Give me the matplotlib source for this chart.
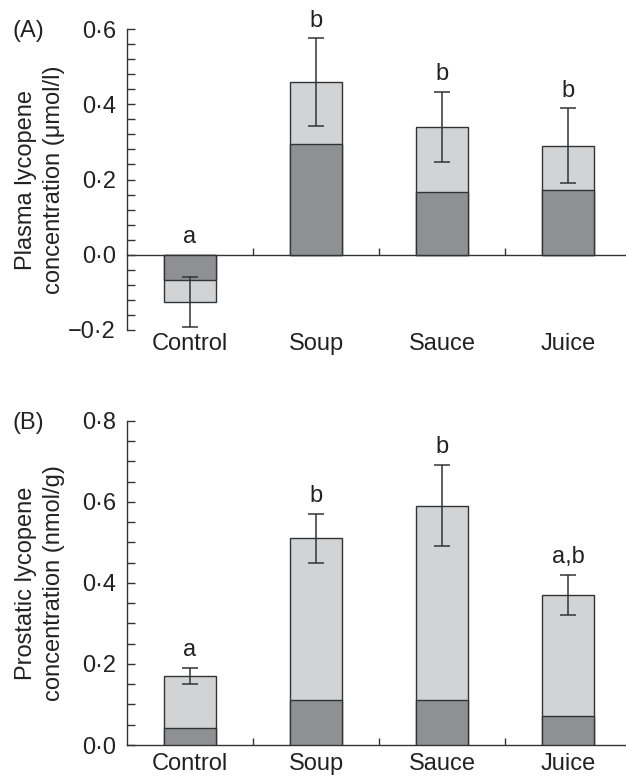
import matplotlib
matplotlib.use('Agg')
import matplotlib.pyplot as plt
from matplotlib.ticker import FixedLocator, MultipleLocator, NullFormatter

plt.rcParams['font.family'] = ['Liberation Sans', 'DejaVu Sans']

categories = ['Control', 'Soup', 'Sauce', 'Juice']

plasma_total = [-0.125, 0.458, 0.340, 0.290]
plasma_dark = [-0.067, 0.295, 0.168, 0.173]
plasma_err = [0.067, 0.117, 0.093, 0.099]
plasma_letters = ['a', 'b', 'b', 'b']
plasma_yticks = [-0.2, 0.0, 0.2, 0.4, 0.6]
plasma_yticklabels = ['\u22120\u00b72', '0\u00b70', '0\u00b72', '0\u00b74', '0\u00b76']

prost_total = [0.170, 0.510, 0.590, 0.370]
prost_dark = [0.041, 0.111, 0.111, 0.072]
prost_err = [0.020, 0.060, 0.100, 0.050]
prost_letters = ['a', 'b', 'b', 'a,b']
prost_yticks = [0.0, 0.2, 0.4, 0.6, 0.8]
prost_yticklabels = ['0\u00b70', '0\u00b72', '0\u00b74', '0\u00b76', '0\u00b78']

LIGHT = '#d2d3d5'
DARK = '#8f9094'
LINE = '#333333'
FS = 17

W, H = 626, 781
fig = plt.figure(figsize=(W / 100, H / 100), dpi=100)


def px_axes(left, top, right, bottom):
    return fig.add_axes([left / W, 1 - bottom / H, (right - left) / W, (bottom - top) / H])


def panel(ax, total, dark, err, letters, ylim, yticks, yticklabels, minor, ylabel, xpad, tag):
    x = list(range(len(categories)))
    ax.bar(x, total, width=0.41, color=LIGHT, edgecolor=LINE, linewidth=1.0, zorder=2)
    ax.bar(x, dark, width=0.41, color=DARK, edgecolor=LINE, linewidth=1.0, zorder=3)
    ax.errorbar(x, total, yerr=err, fmt='none', ecolor=LINE, elinewidth=1.1,
                capsize=5.5, capthick=1.1, zorder=4)
    for xi, t, e, lab in zip(x, total, err, letters):
        top = max(t + e, 0.0)
        ax.annotate(lab, (xi, top), xytext=(0, 8.5), textcoords='offset points',
                    ha='center', va='baseline', fontsize=FS, color='#222222')
    ax.set_xlim(-0.5, 3.5)
    ax.set_ylim(*ylim)
    ax.set_yticks(yticks)
    ax.set_yticklabels(yticklabels)
    ax.yaxis.set_minor_locator(MultipleLocator(minor))
    ax.set_xticks(x)
    ax.set_xticklabels(categories)
    ax.xaxis.set_minor_locator(FixedLocator([0.5, 1.5, 2.5]))
    ax.xaxis.set_minor_formatter(NullFormatter())
    for s in ('top', 'right'):
        ax.spines[s].set_visible(False)
    ax.spines['bottom'].set_position(('data', 0))
    for s in ('left', 'bottom'):
        ax.spines[s].set_color(LINE)
        ax.spines[s].set_linewidth(1.0)
    ax.tick_params(axis='y', which='both', direction='in', length=5.5, width=1.0,
                   color=LINE, labelsize=FS, pad=8, labelcolor='#222222')
    ax.tick_params(axis='x', which='major', length=0, labelsize=FS, pad=xpad,
                   labelcolor='#222222')
    ax.tick_params(axis='x', which='minor', direction='in', length=5, width=1.0, color=LINE)
    ax.set_ylabel(ylabel, fontsize=FS, color='#222222', linespacing=1.3)
    ax.yaxis.set_label_coords(-0.124, 0.5)
    y_top = ax.transData.transform((0, ylim[1]))[1]
    fig.text(13 / W, y_top / fig.dpi / fig.get_figheight() - 2 / H, tag,
             fontsize=FS, ha='left', va='center', color='#222222')


axA = px_axes(127, 29, 631, 330)
panel(axA, plasma_total, plasma_dark, plasma_err, plasma_letters, (-0.2, 0.6),
      plasma_yticks, plasma_yticklabels, 0.04,
      'Plasma lycopene\nconcentration (\u03bcmol/l)', 56, '(A)')

axB = px_axes(127, 420.7, 631, 745)
panel(axB, prost_total, prost_dark, prost_err, prost_letters, (0.0, 0.8),
      prost_yticks, prost_yticklabels, 0.05,
      'Prostatic lycopene\nconcentration (nmol/g)', 6, '(B)')

fig.savefig('out.png', dpi=100)
